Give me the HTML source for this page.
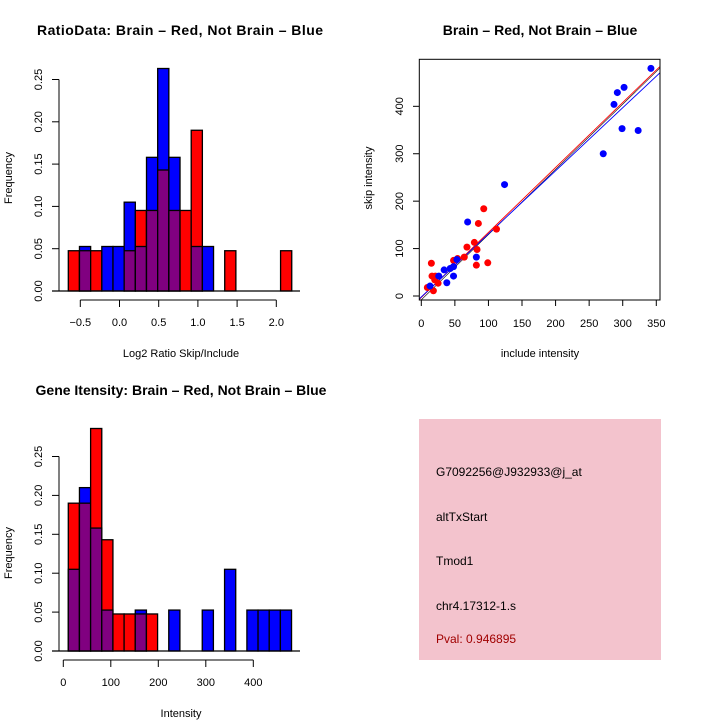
<!DOCTYPE html>
<html><head><meta charset="utf-8"><style>
body{margin:0;background:#fff}
svg{display:block;font-family:"Liberation Sans",sans-serif}
</style></head><body>
<svg id="c" width="720" height="720" viewBox="0 0 720 720">
<rect width="720" height="720" fill="#fff"/>
<text x="180" y="35" text-anchor="middle" font-size="14" font-weight="bold" textLength="286">RatioData: Brain – Red, Not Brain – Blue</text>
<text x="540" y="35" text-anchor="middle" font-size="14" font-weight="bold">Brain – Red, Not Brain – Blue</text>
<text x="181" y="395" text-anchor="middle" font-size="14" font-weight="bold">Gene Itensity: Brain – Red, Not Brain – Blue</text>
<text x="181" y="357" text-anchor="middle" font-size="11">Log2 Ratio Skip/Include</text>
<text x="181" y="717" text-anchor="middle" font-size="11">Intensity</text>
<text x="540" y="357" text-anchor="middle" font-size="11">include intensity</text>
<text transform="translate(12,178) rotate(-90)" text-anchor="middle" font-size="11">Frequency</text>
<text transform="translate(12,553) rotate(-90)" text-anchor="middle" font-size="11">Frequency</text>
<text transform="translate(372,178) rotate(-90)" text-anchor="middle" font-size="11">skip intensity</text>
<g>
<rect x="419" y="419" width="242" height="241" fill="#f3c3cd"/>
<text x="436" y="476" font-size="12">G7092256@J932933@j_at</text>
<text x="436" y="521" font-size="12">altTxStart</text>
<text x="436" y="565" font-size="12">Tmod1</text>
<text x="436" y="610" font-size="12">chr4.17312-1.s</text>
<text x="436" y="643" font-size="12" fill="#a00000">Pval: 0.946895</text>
</g>
<g id="g1"></g><g id="g2"></g><g id="g3"></g>
</svg>
<script>
// Ratio histogram data
const ratioStart = -0.653, ratioWidth = 0.1425;
const ratioRed  = [0.0476,0.0476,0.0476,0,0,0.0476,0.0952,0.0952,0.143,0.0952,0.0952,0.190,0,0,0.0476,0,0,0,0,0.0476];
const ratioBlue = [0,0.0526,0,0.0526,0.0526,0.105,0.0526,0.158,0.263,0.158,0,0.0526,0.0526,0,0,0,0,0,0,0];
const ratioXTicks = [-0.5,0,0.5,1,1.5,2];
const ratioXLabels = ["−0.5","0.0","0.5","1.0","1.5","2.0"];
const freqTicks1 = [0,0.05,0.10,0.15,0.20,0.25];
const freqLabels = ["0.00","0.05","0.10","0.15","0.20","0.25"];
// Intensity histogram data
const intStart = 10.5, intWidth = 23.5;
const intRed  = [0.190,0.190,0.286,0.143,0.0476,0.0476,0.0476,0.0476,0,0,0,0,0,0,0,0,0,0,0,0];
const intBlue = [0.105,0.210,0.158,0.0526,0,0,0.0526,0,0,0.0526,0,0,0.0526,0,0.105,0,0.0526,0.0526,0.0526,0.0526];
const intXTicks = [0,100,200,300,400];
// Scatter data
const redX = [9,15,16,18,20,21,25,48,54,64,68,79,82,83,85,93,99,112];
const redY = [18,69,42,11,34,42,27,75,79,82,103,113,65,98,153,184,70,141];
const blueX = [13,26,34,38,43,48,48,53,69,82,124,271,287,292,302,299,323,342];
const blueY = [21,42,55,28,58,62,42,77,156,82,235,300,404,429,440,353,349,480];
const scXTicks = [0,50,100,150,200,250,300,350];
const scYTicks = [0,100,200,300,400];
const fitRed = [1.37,-3], fitBlue = [1.33,-2], fitBlack = [1.375,-8];

const NS="http://www.w3.org/2000/svg";
function mk(p,tag,at){const e=document.createElementNS(NS,tag);for(const k in at)e.setAttribute(k,at[k]);p.appendChild(e);return e;}

function hist(g,start,w,red,blue,xs,ys,xTicks,xLabels,yTicks,axY0,tickY){
  const n=red.length;
  for(let i=0;i<n;i++){
    const x0=xs(start+i*w), x1=xs(start+(i+1)*w);
    const r=red[i], b=blue[i], m=Math.min(r,b);
    const draw=(v,col,nm)=>{ if(v<=0) return;
      const e=mk(g,'rect',{x:x0,y:ys(v),width:x1-x0,height:ys(0)-ys(v),fill:col,stroke:'#000','stroke-width':1.3});
      
      
    };
    if(r>=b){draw(r,'#f00','bar-red');draw(m,'#800080','bar-overlap');}
    else{draw(b,'#00f','bar-blue');draw(m,'#800080','bar-overlap');}
  }
  mk(g,'line',{x1:52,x2:300,y1:ys(0),y2:ys(0),stroke:'#000','stroke-width':1.2});
  mk(g,'line',{x1:59,x2:59,y1:ys(yTicks[0]),y2:ys(yTicks[yTicks.length-1]),stroke:'#000'});
  yTicks.forEach((t,i)=>{const y=ys(t);
    mk(g,'line',{x1:52,x2:59,y1:y,y2:y,stroke:'#000'});
    const tx=mk(g,'text',{transform:`translate(42,${y}) rotate(-90)`,'text-anchor':'middle','font-size':11});
    tx.textContent=freqLabels[i];
    
    
  });
  mk(g,'line',{x1:xs(xTicks[0]),x2:xs(xTicks[xTicks.length-1]),y1:tickY,y2:tickY,stroke:'#000'});
  xTicks.forEach((t,i)=>{const x=xs(t);
    mk(g,'line',{x1:x,x2:x,y1:tickY,y2:tickY+7,stroke:'#000'});
    const tx=mk(g,'text',{x:x,y:tickY+26,'text-anchor':'middle','font-size':11});
    tx.textContent=xLabels[i];
    
    
  });
}
{
  const xs=v=>119.5+v*78.4, ys=v=>291-v*846;
  hist(document.getElementById('g1'),ratioStart,ratioWidth,ratioRed,ratioBlue,xs,ys,ratioXTicks,ratioXLabels,freqTicks1,291,300);
}
{
  const xs=v=>63.3+v*0.475, ys=v=>651-v*778;
  hist(document.getElementById('g3'),intStart,intWidth,intRed,intBlue,xs,ys,intXTicks,intXTicks.map(String),freqTicks1,651,660);
}
{
  const g=document.getElementById('g2');
  const xs=v=>421.3+v*0.6714, ys=v=>296-v*0.4742;
  const cp=mk(g,'clipPath',{id:'sc'}); mk(cp,'rect',{x:419,y:59,width:241,height:241});
  const lg=mk(g,'g',{'clip-path':'url(#sc)'});
  [[fitBlack,'#000','fit-line-black',0.6],[fitRed,'#f00','fit-line-red',0.9],[fitBlue,'#00f','fit-line-blue',0.9]].forEach(([f,c,nm,sw])=>{
    const e=mk(lg,'line',{x1:xs(-10),y1:ys(f[0]*-10+f[1]),x2:xs(370),y2:ys(f[0]*370+f[1]),stroke:c,'stroke-width':sw});
    
    
  });
  redX.forEach((x,i)=>{const e=mk(g,'circle',{cx:xs(x),cy:ys(redY[i]),r:3.5,fill:'#f00'});
    
    });
  blueX.forEach((x,i)=>{const e=mk(g,'circle',{cx:xs(x),cy:ys(blueY[i]),r:3.5,fill:'#00f'});
    
    });
  mk(g,'rect',{x:419.3,y:59.3,width:240.7,height:240.7,fill:'none',stroke:'#000'});
  scXTicks.forEach(t=>{const x=xs(t);
    mk(g,'line',{x1:x,x2:x,y1:300,y2:306,stroke:'#000'});
    const tx=mk(g,'text',{x:x,y:327,'text-anchor':'middle','font-size':11});tx.textContent=t;
    
    });
  scYTicks.forEach(t=>{const y=ys(t);
    mk(g,'line',{x1:413,x2:419,y1:y,y2:y,stroke:'#000'});
    const tx=mk(g,'text',{transform:`translate(403,${y}) rotate(-90)`,'text-anchor':'middle','font-size':11});tx.textContent=t;
    
    });
}
</script>
</body></html>
